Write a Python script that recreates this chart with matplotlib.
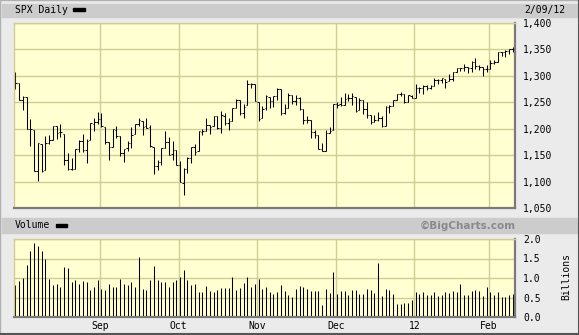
import numpy as np
import matplotlib
matplotlib.use('Agg')
import matplotlib.pyplot as plt
from matplotlib.patches import Rectangle
from matplotlib.lines import Line2D

# trading days, Aug 2011 .. Feb 2012
aug_days = [1, 2, 3, 4, 5, 8, 9, 10, 11, 12, 15, 16, 17, 18, 19, 22, 23, 24, 25, 26, 29, 30, 31]
sep_days = [1, 2, 6, 7, 8, 9, 12, 13, 14, 15, 16, 19, 20, 21, 22, 23, 26, 27, 28, 29, 30]
oct_days = [3, 4, 5, 6, 7, 10, 11, 12, 13, 14, 17, 18, 19, 20, 21, 24, 25, 26, 27, 28, 31]
nov_days = [1, 2, 3, 4, 7, 8, 9, 10, 11, 14, 15, 16, 17, 18, 21, 22, 23, 25, 28, 29, 30]
dec_days = [1, 2, 5, 6, 7, 8, 9, 12, 13, 14, 15, 16, 19, 20, 21, 22, 23, 27, 28, 29, 30]
jan_days = [3, 4, 5, 6, 9, 10, 11, 12, 13, 17, 18, 19, 20, 23, 24, 25, 26, 27, 30, 31]
feb_days = [1, 2, 3, 6, 7, 8, 9]
month_labels = ['Sep', 'Oct', 'Nov', 'Dec', '12', 'Feb']

opens = [1292.6, 1286.6, 1254.3, 1260.2, 1200.3, 1198.5, 1120.2, 1171.8, 1121.3, 1172.9, 1178.9, 1204.2,
         1192.9, 1189.6, 1140.5, 1123.6, 1124.4, 1162.2, 1176.7, 1158.9, 1177.9, 1209.8, 1213.0,
         1219.1, 1203.9, 1174.0, 1165.9, 1198.0, 1185.4, 1153.5, 1162.6, 1173.3, 1189.4, 1209.2,
         1215.0, 1204.5, 1203.6, 1164.6, 1128.8, 1136.9, 1163.3, 1175.4, 1151.7, 1159.9,
         1131.2, 1097.4, 1124.0, 1144.1, 1165.0, 1158.2, 1194.6, 1196.2, 1207.0, 1205.7, 1224.5,
         1200.8, 1223.5, 1209.9, 1215.4, 1238.7, 1254.2, 1229.2, 1244.0, 1284.4, 1285.0,
         1251.0, 1219.6, 1238.3, 1260.8, 1253.2, 1261.1, 1275.2, 1229.6, 1240.1, 1263.9, 1251.7,
         1257.8, 1236.6, 1216.2, 1215.6, 1193.0, 1187.5, 1161.4, 1158.7, 1192.6, 1196.7,
         1246.9, 1246.0, 1244.3, 1257.2, 1258.1, 1260.9, 1234.5, 1255.1, 1236.8, 1225.7, 1212.1,
         1216.1, 1219.7, 1205.7, 1241.3, 1243.7, 1254.0, 1265.0, 1265.4, 1249.8, 1262.8,
         1258.9, 1277.0, 1277.3, 1280.9, 1277.8, 1280.8, 1292.0, 1292.5, 1294.8, 1290.2, 1293.7,
         1308.1, 1314.5, 1315.3, 1316.0, 1314.4, 1326.3, 1318.3, 1316.2, 1313.5,
         1312.5, 1324.2, 1326.2, 1344.3, 1344.3, 1347.0, 1350.0]
highs = [1307.4, 1286.6, 1261.2, 1260.2, 1218.1, 1198.5, 1172.9, 1171.8, 1186.3, 1189.0, 1204.5, 1204.2,
         1208.5, 1189.6, 1154.5, 1145.5, 1162.4, 1178.6, 1190.7, 1181.2, 1210.3, 1220.1, 1230.7,
         1229.3, 1203.9, 1174.0, 1198.6, 1204.4, 1185.4, 1162.5, 1176.4, 1202.4, 1209.1, 1220.1,
         1215.0, 1220.4, 1206.3, 1164.6, 1141.7, 1164.2, 1195.9, 1184.7, 1175.9, 1159.9,
         1139.0, 1125.1, 1146.1, 1165.6, 1171.4, 1194.9, 1199.2, 1220.3, 1207.5, 1224.6, 1224.5,
         1233.1, 1229.6, 1219.5, 1239.0, 1256.6, 1254.2, 1246.3, 1292.7, 1287.1, 1285.0,
         1251.0, 1242.5, 1263.2, 1260.8, 1261.7, 1277.6, 1275.2, 1246.2, 1267.0, 1263.9, 1264.3,
         1259.6, 1237.7, 1223.5, 1215.6, 1196.8, 1187.5, 1172.7, 1197.4, 1203.7, 1247.1,
         1251.1, 1260.1, 1266.7, 1266.0, 1267.1, 1260.9, 1258.3, 1255.1, 1249.9, 1225.7, 1225.6,
         1231.0, 1224.6, 1242.8, 1245.1, 1255.2, 1265.4, 1269.4, 1265.9, 1263.5, 1264.1,
         1284.6, 1278.7, 1283.1, 1281.8, 1282.0, 1296.5, 1293.8, 1296.8, 1294.8, 1303.0, 1308.1,
         1315.5, 1315.4, 1322.3, 1316.0, 1328.3, 1333.5, 1320.1, 1316.2, 1321.4,
         1330.5, 1329.2, 1345.3, 1344.4, 1349.2, 1351.0, 1354.3]
lows = [1274.7, 1254.0, 1234.6, 1199.5, 1168.1, 1119.3, 1101.5, 1118.0, 1121.3, 1170.7, 1178.9, 1180.5,
        1184.4, 1131.0, 1122.1, 1121.1, 1124.4, 1156.3, 1155.5, 1135.9, 1177.9, 1195.8, 1209.4,
        1203.9, 1170.6, 1140.1, 1165.9, 1183.3, 1148.4, 1136.1, 1157.4, 1162.7, 1189.4, 1204.5,
        1188.4, 1201.3, 1166.2, 1114.2, 1121.4, 1131.1, 1163.3, 1150.4, 1139.9, 1131.3,
        1098.9, 1074.8, 1115.7, 1135.0, 1150.3, 1158.2, 1187.3, 1196.2, 1190.6, 1205.7, 1198.6,
        1191.5, 1206.3, 1197.3, 1215.4, 1238.7, 1226.8, 1221.1, 1244.0, 1277.0, 1253.2,
        1215.4, 1219.6, 1234.8, 1238.9, 1240.8, 1255.0, 1226.6, 1227.7, 1240.1, 1246.7, 1244.3,
        1235.7, 1209.4, 1211.4, 1183.2, 1181.7, 1161.8, 1158.7, 1158.7, 1191.8, 1196.7,
        1239.7, 1243.4, 1244.3, 1253.0, 1244.8, 1231.5, 1234.5, 1227.3, 1219.4, 1209.5, 1212.1,
        1215.2, 1202.4, 1205.7, 1229.5, 1243.7, 1254.0, 1262.3, 1248.6, 1249.8, 1257.5,
        1258.9, 1268.1, 1265.3, 1273.3, 1274.6, 1280.8, 1285.4, 1285.8, 1277.6, 1290.2, 1291.0,
        1308.1, 1309.2, 1309.9, 1306.1, 1307.7, 1313.6, 1311.7, 1300.5, 1306.7,
        1312.5, 1321.6, 1326.2, 1337.5, 1335.9, 1342.0, 1344.6]
closes = [1286.9, 1254.1, 1260.3, 1200.1, 1199.4, 1119.5, 1172.5, 1120.8, 1172.6, 1178.8, 1204.5, 1192.8,
          1193.9, 1140.7, 1123.5, 1123.8, 1162.4, 1177.6, 1159.3, 1176.8, 1210.1, 1212.9, 1218.9,
          1204.4, 1174.0, 1165.2, 1198.6, 1185.9, 1154.2, 1162.3, 1172.9, 1188.7, 1209.1, 1216.0,
          1204.1, 1202.1, 1166.8, 1129.6, 1136.4, 1163.0, 1175.4, 1151.1, 1160.4, 1131.4,
          1099.2, 1124.0, 1144.0, 1165.0, 1155.5, 1194.9, 1195.5, 1207.3, 1203.7, 1224.6, 1200.9,
          1225.4, 1209.9, 1215.4, 1238.3, 1254.2, 1229.1, 1242.0, 1284.6, 1285.1, 1253.3,
          1218.3, 1237.9, 1261.2, 1253.2, 1261.1, 1275.9, 1229.1, 1239.7, 1263.9, 1251.8, 1257.8,
          1236.9, 1216.1, 1215.7, 1193.0, 1188.0, 1161.8, 1158.7, 1192.6, 1195.2, 1247.0,
          1244.6, 1244.3, 1257.1, 1258.5, 1261.0, 1234.4, 1255.2, 1236.5, 1225.7, 1211.8, 1215.8,
          1219.7, 1205.4, 1241.3, 1243.7, 1254.0, 1265.3, 1265.4, 1249.6, 1263.0, 1257.6,
          1277.1, 1277.3, 1281.1, 1277.8, 1280.7, 1292.1, 1292.5, 1295.5, 1289.1, 1293.7, 1308.0,
          1314.5, 1315.4, 1316.0, 1314.7, 1326.1, 1318.4, 1316.3, 1313.0, 1312.4,
          1324.1, 1325.5, 1344.9, 1344.3, 1347.1, 1350.0, 1352.0]
# volume, billions
volume = [0.83, 0.93, 1.00, 1.34, 1.69, 1.90, 1.83, 1.69, 1.49, 0.98, 0.83, 0.85, 0.78, 1.29, 1.26,
          0.91, 0.95, 0.85, 0.92, 0.90, 0.68, 0.77, 0.95,
          0.72, 0.70, 0.85, 0.76, 0.78, 0.98, 0.85, 0.83, 0.89, 0.78, 1.54, 0.72, 0.70, 0.95, 1.31,
          0.94, 0.91, 0.89, 0.78, 0.89, 0.95,
          1.03, 1.21, 0.95, 0.83, 0.85, 0.65, 0.65, 0.80, 0.67, 0.65, 0.70, 0.75, 0.75, 0.75, 1.03,
          0.68, 0.75, 0.88, 1.03, 0.77, 0.85,
          0.98, 0.72, 0.77, 0.65, 0.60, 0.65, 0.83, 0.67, 0.57, 0.51, 0.72, 0.79, 0.77, 0.72, 0.67,
          0.67, 0.67, 0.31, 0.72, 0.62, 1.16,
          0.60, 0.66, 0.67, 0.57, 0.70, 0.70, 0.60, 0.60, 0.72, 0.70, 0.62, 1.39, 0.54, 0.72, 0.70,
          0.60, 0.34, 0.34, 0.37, 0.37, 0.43,
          0.65, 0.60, 0.65, 0.57, 0.57, 0.65, 0.54, 0.57, 0.65, 0.62, 0.67, 0.65, 0.85, 0.57, 0.57,
          0.67, 0.70, 0.67, 0.54, 0.77,
          0.65, 0.57, 0.65, 0.52, 0.52, 0.57, 0.60]

price_ticks = [1050, 1100, 1150, 1200, 1250, 1300, 1350, 1400]
vol_ticks = [0.0, 0.5, 1.0, 1.5, 2.0]

months = [aug_days, sep_days, oct_days, nov_days, dec_days, jan_days, feb_days]
month_starts = np.cumsum([len(m) for m in months])[:-1] - 0.35
x = np.arange(len(closes))

W, H = 579, 335
plt.rcParams['font.family'] = 'DejaVu Sans Mono'
bg = '#ffffd2'
grid_c = '#cdcd96'
bar_lw = 0.75


def fig_rect(px, py, pw, ph):
    return [px / W, 1 - (py + ph) / H, pw / W, ph / H]


fig = plt.figure(figsize=(W / 100, H / 100), dpi=100, facecolor='#ebebeb')

# header bands
for y0, y1 in [(4, 17), (218, 233)]:
    fig.add_artist(Rectangle((2 / W, 1 - y1 / H), (W - 2) / W, (y1 - y0) / H,
                             transform=fig.transFigure, color='#cccccc', zorder=0))
# legend dashes
fig.add_artist(Rectangle((73 / W, 1 - 11 / H), 12 / W, 3 / H, transform=fig.transFigure, color='black'))
fig.add_artist(Rectangle((56 / W, 1 - 227 / H), 11 / W, 3 / H, transform=fig.transFigure, color='black'))

fig.text(15 / W, 1 - 10 / H, 'SPX Daily', fontsize=7, va='center', ha='left')
fig.text(524 / W, 1 - 10 / H, '2/09/12', fontsize=7, va='center', ha='left')
fig.text(15 / W, 1 - 225.5 / H, 'Volume', fontsize=7, va='center', ha='left')
fig.text(516 / W, 1 - 225.5 / H, '\u00a9BigCharts.com', fontsize=7.5, va='center', ha='right',
         family='DejaVu Sans', weight='bold', color='#8a8a8a')
fig.text(566 / W, 1 - 276 / H, 'Billions', fontsize=7, rotation=90, va='center', ha='center')

# frame
fig.add_artist(Line2D([0, 0, 1], [0, 1, 1], transform=fig.transFigure, color='#b0b0b0', lw=1.0))
fig.add_artist(Line2D([0, 1, 1], [0.003, 0.003, 1], transform=fig.transFigure, color='#555555', lw=1.5))


def style_axes(ax):
    ax.set_facecolor(bg)
    ax.set_xlim(-0.4, 133.6)
    for m in month_starts:
        ax.axvline(m, color=grid_c, lw=1.0, zorder=0)
    ax.grid(axis='y', color=grid_c, lw=1.0, zorder=0)
    ax.set_axisbelow(True)
    for s in ['top', 'left']:
        ax.spines[s].set_color(grid_c)
        ax.spines[s].set_linewidth(1)
    for s in ['right', 'bottom']:
        ax.spines[s].set_color('#7a7a7a')
        ax.spines[s].set_linewidth(1.6)
    ax.yaxis.tick_right()
    ax.tick_params(axis='y', length=0, pad=6, labelsize=7)
    ax.tick_params(axis='x', length=0, pad=3, labelsize=7)


# price panel
ax = fig.add_axes(fig_rect(14, 23, 501, 185))
style_axes(ax)
ax.set_ylim(1050, 1400)
ax.set_yticks(price_ticks)
ax.set_yticklabels([f'{v:,}' for v in price_ticks])
ax.set_xticks([])
ax.vlines(x, lows, highs, color='black', lw=bar_lw)
ax.hlines(opens, x - 0.4, x, color='black', lw=bar_lw)
ax.hlines(closes, x, x + 0.4, color='black', lw=bar_lw)

# volume panel
axv = fig.add_axes(fig_rect(14, 239, 501, 78))
style_axes(axv)
axv.set_ylim(0, 2.0)
axv.set_yticks(vol_ticks)
axv.set_yticklabels([f'{v:.1f}' for v in vol_ticks])
axv.set_xticks(month_starts)
axv.set_xticklabels(month_labels)
axv.vlines(x, 0, volume, color='black', lw=bar_lw)

fig.savefig('out.png', dpi=100, facecolor=fig.get_facecolor())
